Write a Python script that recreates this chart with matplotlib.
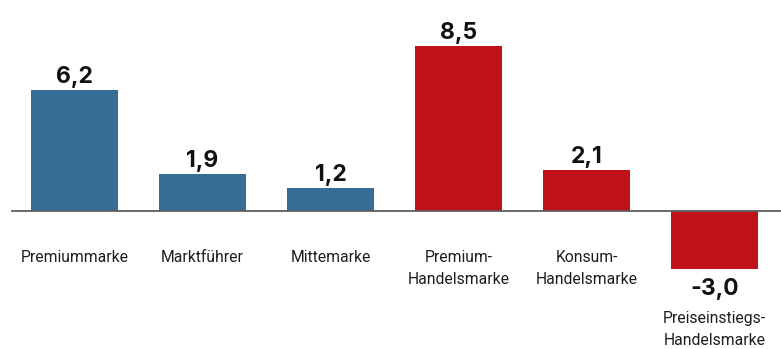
import matplotlib

matplotlib.use("Agg")
import matplotlib.pyplot as plt  # noqa: E402

categories = [
    "Premiummarke",
    "Marktführer",
    "Mittemarke",
    "Premium-\nHandelsmarke",
    "Konsum-\nHandelsmarke",
    "Preiseinstiegs-\nHandelsmarke",
]
values = [6.2, 1.9, 1.2, 8.5, 2.1, -3.0]
groups = ["marke", "marke", "marke", "handel", "handel", "handel"]

COLORS = {"marke": "#356d96", "handel": "#c1121c"}

W, H, DPI = 781, 349, 100
fig = plt.figure(figsize=(W / DPI, H / DPI), dpi=DPI)
ax = fig.add_axes([0, 0, 1, 1])

# 128 px per category slot, 19.45 px per unit, zero line at 211 px from top
px_x, px_y, zero_y = 128.0, 19.45, 211.0
x0 = 74.5
ax.set_xlim(-x0 / px_x, (W - x0) / px_x)
ax.set_ylim(-(H - zero_y) / px_y, zero_y / px_y)
ax.axis("off")

xs = list(range(len(values)))
ax.bar(xs, values, width=0.68, color=[COLORS[g] for g in groups], zorder=2)
ax.plot([(12 - x0) / px_x, (W - x0) / px_x], [0, 0], color="#5f5f5f", lw=1.3, zorder=3)

pt = 72.0 / DPI
for x, v, cat in zip(xs, values, categories, strict=False):
    label = f"{v:.1f}".replace(".", ",")
    if v >= 0:
        off = 7 * pt
        lab_top = 250
    else:
        off = -26 * pt
        lab_top = 311
    ax.annotate(
        label,
        (x, v),
        textcoords="offset points",
        xytext=(0, off),
        ha="center",
        va="baseline",
        fontsize=16.5,
        fontweight="bold",
        family="Inter",
        color="#111111",
    )
    ax.text(
        x,
        -(lab_top - zero_y) / px_y,
        cat,
        ha="center",
        va="top",
        fontsize=11.3,
        family="Roboto",
        color="#1e1e1e",
        linespacing=1.58,
        multialignment="center",
    )

fig.savefig("out.png", dpi=DPI)
